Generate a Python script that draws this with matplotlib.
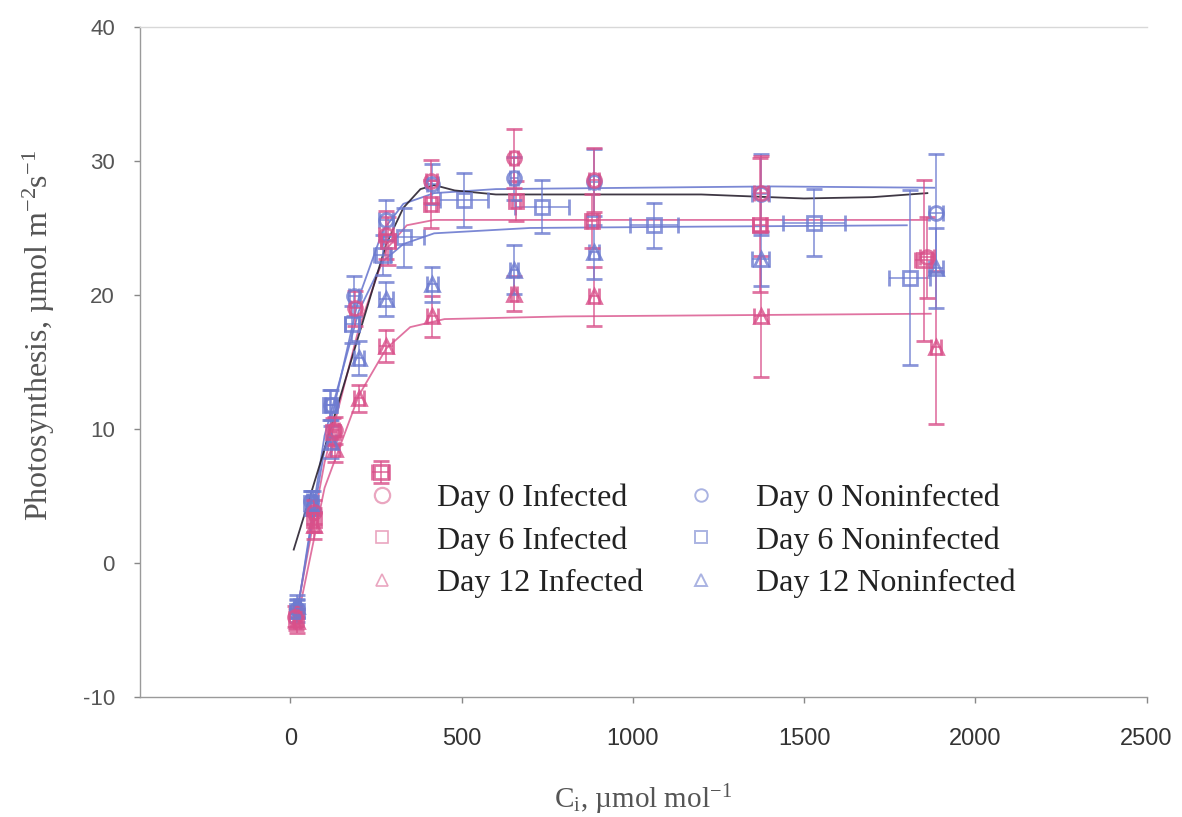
import matplotlib
matplotlib.use("Agg")
import matplotlib.pyplot as plt
from matplotlib.lines import Line2D

plt.rcParams["axes.unicode_minus"] = False
plt.rcParams["mathtext.fontset"] = "custom"
plt.rcParams["mathtext.rm"] = "Liberation Serif"
plt.rcParams["mathtext.it"] = "Liberation Serif:italic"

# ---- data (Ci, umol/mol ; A, umol m-2 s-1) ----
d0_inf_x = [15, 68, 130, 190, 280, 412, 653, 886, 1374, 1860]
d0_inf_y = [-4.0, 3.8, 9.9, 19.0, 24.5, 28.5, 30.2, 28.6, 27.6, 22.8]
d0_inf_xe = [8, 10, 12, 15, 20, 15, 12, 15, 20, 20]
d0_inf_ye = [0.8, 0.9, 1.0, 1.3, 1.8, 1.6, 2.2, 2.4, 2.8, 3.0]

d0_non_x = [20, 60, 118, 185, 280, 415, 653, 886, 1374, 1886]
d0_non_y = [-3.4, 4.6, 11.8, 19.9, 25.6, 28.3, 28.7, 28.4, 27.5, 26.1]
d0_non_xe = [8, 10, 15, 15, 20, 15, 12, 15, 25, 20]
d0_non_ye = [0.7, 0.8, 1.1, 1.5, 1.5, 1.5, 1.6, 2.5, 3.0, 4.4]

d6_inf_x = [18, 68, 125, 264, 285, 410, 660, 880, 1370, 1850]
d6_inf_y = [-4.2, 3.2, 9.8, 6.8, 24.0, 26.8, 27.0, 25.5, 25.2, 22.6]
d6_inf_xe = [8, 10, 12, 25, 20, 15, 12, 15, 20, 25]
d6_inf_ye = [0.8, 0.9, 1.0, 0.8, 1.8, 1.8, 1.5, 2.0, 5.0, 6.0]

d6_non_x = [20, 60, 115, 180, 270, 331, 506, 735, 1063, 1530, 1808]
d6_non_y = [-3.6, 4.5, 11.8, 17.8, 23.0, 24.3, 27.1, 26.6, 25.2, 25.4, 21.3]
d6_non_xe = [10, 12, 15, 20, 25, 60, 70, 80, 70, 90, 60]
d6_non_ye = [0.8, 0.9, 1.1, 1.4, 1.5, 2.2, 2.0, 2.0, 1.7, 2.5, 6.5]

d12_inf_x = [20, 70, 130, 200, 280, 415, 653, 886, 1374, 1886]
d12_inf_y = [-4.3, 2.8, 8.5, 12.3, 16.2, 18.4, 20.1, 19.9, 18.4, 16.1]
d12_inf_xe = [8, 10, 12, 15, 20, 15, 10, 15, 20, 15]
d12_inf_ye = [0.9, 1.0, 1.0, 1.0, 1.2, 1.5, 1.3, 2.2, 4.5, 5.7]

d12_non_x = [20, 65, 120, 200, 280, 415, 653, 886, 1374, 1886]
d12_non_y = [-3.2, 4.5, 9.0, 15.3, 19.7, 20.8, 21.9, 23.2, 22.7, 22.0]
d12_non_xe = [8, 10, 12, 15, 20, 15, 12, 15, 25, 20]
d12_non_ye = [0.8, 0.9, 1.2, 1.3, 1.3, 1.3, 1.8, 2.0, 2.0, 3.0]

# fitted response curves
fit_d0_inf_x = [10, 100, 200, 280, 330, 380, 420, 480, 600, 900, 1200, 1500, 1700, 1860]
fit_d0_inf_y = [1.0, 8.5, 17.0, 23.8, 26.5, 27.9, 28.2, 27.8, 27.5, 27.5, 27.5, 27.2, 27.3, 27.6]
fit_d0_non_x = [20, 100, 200, 270, 330, 420, 600, 1000, 1400, 1880]
fit_d0_non_y = [-3.6, 8.5, 19.8, 24.8, 26.8, 27.6, 27.9, 28.0, 28.1, 28.0]
fit_d6_inf_x = [15, 100, 200, 280, 340, 420, 1000, 1860]
fit_d6_inf_y = [-4.2, 7.5, 17.5, 23.4, 25.2, 25.6, 25.6, 25.6]
fit_d6_non_x = [20, 100, 200, 270, 330, 420, 700, 1200, 1800]
fit_d6_non_y = [-3.8, 9.5, 18.8, 22.5, 23.8, 24.6, 25.0, 25.1, 25.2]
fit_d12_inf_x = [20, 100, 200, 280, 350, 450, 800, 1870]
fit_d12_inf_y = [-4.3, 5.6, 12.5, 16.0, 17.6, 18.2, 18.4, 18.6]

labels = ["Day 0 Infected", "Day 6 Infected", "Day 12 Infected",
          "Day 0 Noninfected", "Day 6 Noninfected", "Day 12 Noninfected"]

PINK = "#d9508a"
BLUE = "#6d7bd0"
PINK_PALE = "#eaa6c0"
BLUE_PALE = "#aab3e2"

fig = plt.figure(figsize=(11.82, 8.17), dpi=100)
ax = fig.add_axes([0.1184, 0.1469, 0.8516, 0.8201])

# fitted lines
ax.plot(fit_d12_inf_x, fit_d12_inf_y, color=PINK, lw=1.3, alpha=0.8)
ax.plot(fit_d6_non_x, fit_d6_non_y, color=BLUE, lw=1.3, alpha=0.9)
ax.plot(fit_d6_inf_x, fit_d6_inf_y, color=PINK, lw=1.3, alpha=0.8)
ax.plot(fit_d0_non_x, fit_d0_non_y, color=BLUE, lw=1.3, alpha=0.9)
ax.plot(fit_d0_inf_x, fit_d0_inf_y, color="#2a2230", lw=1.3, alpha=0.9)

series = [
    (d12_inf_x, d12_inf_y, d12_inf_xe, d12_inf_ye, "^", PINK),
    (d12_non_x, d12_non_y, d12_non_xe, d12_non_ye, "^", BLUE),
    (d6_non_x, d6_non_y, d6_non_xe, d6_non_ye, "s", BLUE),
    (d6_inf_x, d6_inf_y, d6_inf_xe, d6_inf_ye, "s", PINK),
    (d0_non_x, d0_non_y, d0_non_xe, d0_non_ye, "o", BLUE),
    (d0_inf_x, d0_inf_y, d0_inf_xe, d0_inf_ye, "o", PINK),
]
for x, y, xe, ye, m, c in series:
    ax.errorbar(x, y, xerr=xe, yerr=ye, fmt=m, mfc="none", mec=c, ms=10,
                mew=2.0, ecolor=c, elinewidth=1.2, capsize=6, capthick=1.2,
                alpha=0.8)

ax.set_xlim(-439, 2500)
ax.set_ylim(-10, 40)
ax.set_xticks([0, 500, 1000, 1500, 2000, 2500])
ax.set_yticks([-10, 0, 10, 20, 30, 40])

for side in ["top", "bottom", "left"]:
    ax.spines[side].set_color("#9a9a9a")
    ax.spines[side].set_linewidth(1.0)
ax.spines["top"].set_color("#d8d8d8")
ax.spines["right"].set_visible(False)
ax.tick_params(axis="both", direction="out", length=4, width=1, color="#888888")
ax.tick_params(axis="x", labelsize=17, labelcolor="#333333", pad=18)
ax.tick_params(axis="y", labelsize=16, labelcolor="#555555", pad=14)
for t in ax.get_xticklabels() + ax.get_yticklabels():
    t.set_family("Liberation Sans")

ax.set_ylabel("Photosynthesis, µmol m$^{-2}$s$^{-1}$", family="Liberation Serif",
              fontsize=23, color="#555555")
ax.yaxis.set_label_coords(-0.082, 0.54)
ax.set_xlabel("C$_{\\rm i}$, µmol mol$^{-1}$", family="Liberation Serif",
              fontsize=21, color="#555555", labelpad=24)

handles = [
    Line2D([], [], ls="none", marker="o", mfc="none", mec=PINK_PALE, ms=11, mew=1.6),
    Line2D([], [], ls="none", marker="s", mfc="none", mec=PINK_PALE, ms=8, mew=1.2),
    Line2D([], [], ls="none", marker="^", mfc="none", mec=PINK_PALE, ms=9, mew=1.2),
    Line2D([], [], ls="none", marker="o", mfc="none", mec=BLUE_PALE, ms=9, mew=1.4),
    Line2D([], [], ls="none", marker="s", mfc="none", mec=BLUE_PALE, ms=8, mew=1.4),
    Line2D([], [], ls="none", marker="^", mfc="none", mec=BLUE_PALE, ms=8, mew=1.4),
]
leg = ax.legend(handles, labels, ncol=2, frameon=False, loc="upper left",
                bbox_to_anchor=(0.1927, 0.361), handlelength=1.2,
                handletextpad=1.13, columnspacing=1.2, labelspacing=0.4,
                prop={"family": "Liberation Serif", "size": 23})
for t in leg.get_texts():
    t.set_color("#222222")

fig.savefig("out.png", dpi=100)
